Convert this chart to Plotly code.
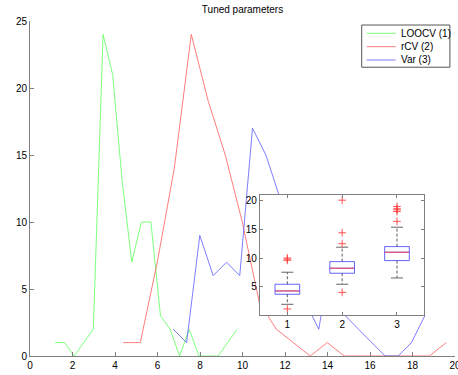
import plotly.graph_objects as go

# ---------------- data ----------------
loocv_x = [1.18, 1.63, 2.08, 2.53, 2.98, 3.44, 3.89, 4.34, 4.79, 5.24,
           5.69, 6.14, 6.59, 7.04, 7.49, 7.95, 8.40, 8.85, 9.30, 9.75]
loocv_y = [1, 1, 0, 1, 2, 24, 21, 13, 7, 10, 10, 3, 2, 0, 2, 0, 0, 0, 1, 2]

rcv_x = [4.39, 5.19, 5.99, 6.79, 7.59, 8.39, 9.19, 9.99, 10.79, 11.59,
         12.39, 13.19, 13.99, 14.79, 15.59, 16.39, 17.19, 17.99, 18.79, 19.59]
rcv_y = [1, 1, 7, 14, 24, 19, 15, 10, 4, 2, 1, 0, 1, 0, 0, 0, 0, 0, 0, 1]

var_x = [6.74, 7.37, 7.99, 8.62, 9.25, 9.87, 10.47, 11.10, 11.72, 12.35,
         12.97, 13.59, 14.22, 14.84, 15.46, 16.09, 16.71, 17.33, 17.95, 18.58]
var_y = [2, 1, 9, 6, 7, 6, 17, 15, 12, 7, 4, 2, 8, 3, 2, 1, 0, 0, 1, 3]

series_names = ["LOOCV (1)", "rCV (2)", "Var (3)"]
series_colors = ["#5cff5c", "#ff5c5c", "#5c5cff"]

# inset box plot statistics
box_pos = [1, 2, 3]
box_q1 = [3.67, 7.34, 9.55]
box_median = [4.25, 8.22, 11.01]
box_q3 = [5.42, 9.37, 11.99]
box_lower = [1.92, 5.42, 6.52]
box_upper = [7.52, 11.89, 15.38]
outlier_x = [1, 1, 1, 1, 2, 2, 2, 2, 3, 3, 3, 3, 3]
outlier_y = [9.6, 9.8, 10.0, 1.1, 20.1, 14.4, 12.5, 4.0, 16.4, 18.1, 18.4, 18.6, 19.0]

x_ticks = [0, 2, 4, 6, 8, 10, 12, 14, 16, 18, 20]
y_ticks = [0, 5, 10, 15, 20, 25]
inset_y_ticks = [5, 10, 15, 20]

BOX_W = 0.45
CAP_W = 0.22

FONT = "Liberation Sans, Arial, sans-serif"
AX_GRAY = "#7f7f7f"

fig = go.Figure()

# ---------------- main lines ----------------
for xs, ys, name, col in zip([loocv_x, rcv_x, var_x], [loocv_y, rcv_y, var_y],
                             series_names, series_colors):
    fig.add_trace(go.Scatter(x=xs, y=ys, mode="lines", name=name,
                             line=dict(color=col, width=0.8),
                             showlegend=False, xaxis="x", yaxis="y",
                             hoverinfo="skip"))

# ---------------- inset box plot ----------------
def segs(xa, xb, ya, yb):
    X, Y = [], []
    for a, b, c, d in zip(xa, xb, ya, yb):
        X += [a, b, None]
        Y += [c, d, None]
    return X, Y

# whiskers (dashed black)
wx, wy = segs(box_pos + box_pos, box_pos + box_pos,
              box_q3 + box_q1, box_upper + box_lower)
fig.add_trace(go.Scatter(x=wx, y=wy, mode="lines", xaxis="x2", yaxis="y2",
                         line=dict(color="#333333", width=0.8, dash="3px,2px"),
                         showlegend=False, hoverinfo="skip"))
# caps
cx, cy = segs([p - CAP_W / 2 for p in box_pos * 2], [p + CAP_W / 2 for p in box_pos * 2],
              box_upper + box_lower, box_upper + box_lower)
fig.add_trace(go.Scatter(x=cx, y=cy, mode="lines", xaxis="x2", yaxis="y2",
                         line=dict(color="#666666", width=1),
                         showlegend=False, hoverinfo="skip"))
# boxes
fig.add_trace(go.Box(x=box_pos, q1=box_q1, median=box_median, q3=box_q3,
                     lowerfence=box_q1, upperfence=box_q3, width=BOX_W,
                     whiskerwidth=0, boxpoints=False,
                     line=dict(color="#3c3cff", width=0.8),
                     fillcolor="rgba(255,255,255,0)",
                     xaxis="x2", yaxis="y2", showlegend=False, hoverinfo="skip"))
# medians (red)
mx, my = segs([p - BOX_W / 2 for p in box_pos], [p + BOX_W / 2 for p in box_pos],
              box_median, box_median)
fig.add_trace(go.Scatter(x=mx, y=my, mode="lines", xaxis="x2", yaxis="y2",
                         line=dict(color="#ff4040", width=0.9),
                         showlegend=False, hoverinfo="skip"))
# outliers
fig.add_trace(go.Scatter(x=outlier_x, y=outlier_y, mode="markers",
                         xaxis="x2", yaxis="y2",
                         marker=dict(symbol="cross-thin", size=5.5,
                                     line=dict(color="#ff4040", width=0.9)),
                         showlegend=False, hoverinfo="skip"))

# ---------------- custom compact legend ----------------
leg_x0, leg_x1 = 0.7805, 0.988
leg_y0, leg_y1 = 0.862, 0.988
row_y = [0.9633, 0.9233, 0.8836]
shapes = [dict(type="rect", xref="paper", yref="paper", x0=leg_x0, x1=leg_x1,
               y0=leg_y0, y1=leg_y1, line=dict(color="#555555", width=1),
               fillcolor="white", layer="above")]
annotations = []
for name, col, yy in zip(series_names, series_colors, row_y):
    shapes.append(dict(type="line", xref="paper", yref="paper",
                       x0=0.7922, x1=0.8605, y0=yy, y1=yy,
                       line=dict(color=col, width=0.8), layer="above"))
    annotations.append(dict(text=name, xref="paper", yref="paper", x=0.868, y=yy,
                            xanchor="left", yanchor="middle", showarrow=False,
                            font=dict(family=FONT, size=10, color="black")))

axis_common = dict(showline=True, linecolor=AX_GRAY, linewidth=1, ticks="inside",
                   tickcolor=AX_GRAY, showgrid=False, zeroline=False,
                   automargin=False,
                   tickfont=dict(family=FONT, size=10, color="black"))

fig.update_layout(
    width=458, height=375,
    margin=dict(l=30, r=3, t=21, b=19, pad=0, autoexpand=False),
    paper_bgcolor="white", plot_bgcolor="white",
    title=dict(text="Tuned parameters", x=0.5, xref="paper", y=0.975,
               yref="container", xanchor="center", yanchor="middle",
               font=dict(family=FONT, size=10, color="black")),
    xaxis=dict(domain=[0, 1], range=[0, 20], tickvals=x_ticks, ticklen=4,
               anchor="y", ticklabeloverflow="allow", **axis_common),
    yaxis=dict(domain=[0, 1], range=[0, 25], tickvals=y_ticks, ticklen=4,
               anchor="x", **axis_common),
    xaxis2=dict(domain=[0.541, 0.928], range=[0.5, 3.5], tickvals=box_pos,
                ticklen=3, anchor="y2", mirror="ticks", **axis_common),
    yaxis2=dict(domain=[0.1215, 0.4806], range=[0, 21], tickvals=inset_y_ticks,
                ticklen=3, anchor="x2", mirror="ticks", **axis_common),
    shapes=shapes, annotations=annotations,
    showlegend=False,
)

fig.write_html("out.html")
